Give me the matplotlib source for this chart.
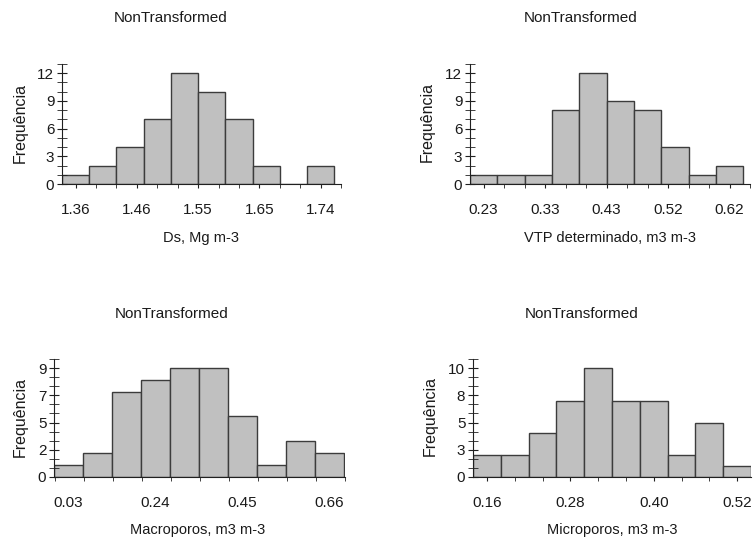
import numpy as np
import matplotlib
matplotlib.use("Agg")
import matplotlib.pyplot as plt

plt.rcParams['font.family'] = ['Liberation Sans', 'DejaVu Sans']

# histogram data (counts per bin)
ds_counts = [1, 2, 4, 7, 12, 10, 7, 2, 0, 2]
ds_first, ds_width = 1.36, 0.0422
ds_xlabels = ['1.36', '1.46', '1.55', '1.65', '1.74']

vtp_counts = [1, 1, 1, 8, 12, 9, 8, 4, 1, 2]
vtp_first, vtp_width = 0.23, 0.0433
vtp_xlabels = ['0.23', '0.33', '0.43', '0.52', '0.62']

macro_counts = [1, 2, 7, 8, 9, 9, 5, 1, 3, 2]
macro_first, macro_width = 0.03, 0.07
macro_xlabels = ['0.03', '0.24', '0.45', '0.66']

micro_counts = [2, 2, 4, 7, 10, 7, 7, 2, 5, 1]
micro_first, micro_width = 0.16, 0.04
micro_xlabels = ['0.16', '0.28', '0.40', '0.52']

ylabels_12 = ['0', '3', '6', '9', '12']
ylabels_9 = ['0', '2', '5', '7', '9']
ylabels_10 = ['0', '3', '5', '8', '10']

W, H = 755, 540
fig = plt.figure(figsize=(W / 100, H / 100), dpi=100)
txt = '#1a1a1a'


def px_axes(l, r, t, b):
    return fig.add_axes([l / W, 1 - b / H, (r - l) / W, (b - t) / H])


def hist_panel(box, counts, first, width, xlabels, ylabels, ymax, xminor, title, xlabel, title_xy, xlabel_xy, ylab_xy):
    ax = px_axes(*box)
    n = len(counts)
    centers = first + width * np.arange(n)
    ax.bar(centers, counts, width=width, color='#c0c0c0', edgecolor='#3c3c3c', linewidth=1.0)
    ax.set_xlim(first - width / 2, first + width * (n - 0.5))
    ax.set_ylim(0, ymax)
    ax.spines[['top', 'right']].set_visible(False)
    ax.spines[['left', 'bottom']].set_color('#202020')
    # x ticks
    xt = np.linspace(first, first + width * (n - 1), len(xlabels))
    ax.set_xticks(xt, xlabels)
    if xminor == 'edges':
        ax.set_xticks(first - width / 2 + width * np.arange(n + 1) + width * 0.05, minor=True)
        ax.tick_params(axis='x', which='major', length=0, pad=14)
    else:
        ax.set_xticks(np.arange(first, first + width * n, width * xminor), minor=True)
        ax.tick_params(axis='x', which='major', length=3, pad=11)
    ax.tick_params(axis='x', which='minor', length=3, direction='out', color='#202020')
    ax.tick_params(axis='x', which='major', direction='out', color='#202020', labelsize=11, labelcolor=txt)
    # y ticks
    top = float(ylabels[-1])
    yt = np.linspace(0, top, len(ylabels))
    ax.set_yticks(yt, ylabels)
    ax.set_yticks(np.arange(0, ymax + 1e-6, yt[1] / 3), minor=True)
    ax.tick_params(axis='y', which='both', direction='inout', length=7, color='#202020')
    ax.tick_params(axis='y', which='major', labelsize=11, labelcolor=txt, pad=2)
    fig.text(title_xy[0] / W, 1 - title_xy[1] / H, title, ha='center', va='center', fontsize=11, color=txt)
    fig.text(xlabel_xy[0] / W, 1 - xlabel_xy[1] / H, xlabel, ha='center', va='center', fontsize=10.5, color=txt)
    fig.text(ylab_xy[0] / W, 1 - ylab_xy[1] / H, 'Frequência', ha='center', va='center',
             rotation=90, fontsize=11.5, color=txt)
    return ax


hist_panel((62, 341, 64, 184), ds_counts, ds_first, ds_width, ds_xlabels, ylabels_12, 13, 0.75,
           'NonTransformed', 'Ds, Mg m-3', (171, 18), (201, 238), (20, 123))
hist_panel((470, 750, 64, 184), vtp_counts, vtp_first, vtp_width, vtp_xlabels, ylabels_12, 13, 0.75,
           'NonTransformed', 'VTP determinado, m3 m-3', (581, 18), (610, 238), (427, 122))
hist_panel((54, 345, 359, 477), macro_counts, macro_first, macro_width, macro_xlabels, ylabels_9, 9.75, 'edges',
           'NonTransformed', 'Macroporos, m3 m-3', (172, 314), (198, 530), (20, 417))
hist_panel((473, 751, 359, 477), micro_counts, micro_first, micro_width, micro_xlabels, ylabels_10, 10.0 + 10 / 12, 1.0,
           'NonTransformed', 'Microporos, m3 m-3', (582, 314), (612, 530), (430, 416))

fig.savefig('out.png', dpi=100)
